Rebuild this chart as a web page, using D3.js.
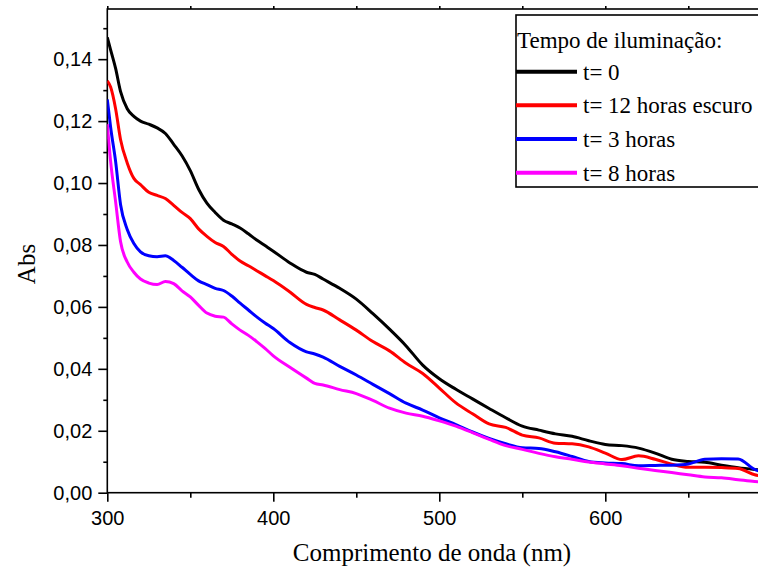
<!DOCTYPE html>
<html>
<head>
<meta charset="utf-8">
<script src="https://cdn.jsdelivr.net/npm/d3@7"></script>
<style>
html,body{margin:0;padding:0;background:#fff;overflow:hidden;}
svg{display:block;}
</style>
</head>
<body>
<svg id="chart" width="758" height="574"></svg>
<script>
const wavelengths = [300,302,305,308,312,316,320,325,330,335,340,345,350,355,360,365,370,375,380,385,390,395,400,410,420,425,430,440,450,460,470,480,490,500,510,520,530,540,550,560,570,580,590,600,610,620,630,640,650,660,670,680,690,700];
const t0 = [0.147,0.143,0.137,0.1295,0.124,0.1215,0.120,0.119,0.1178,0.116,0.1125,0.1088,0.104,0.098,0.0935,0.0905,0.088,0.0868,0.0855,0.0836,0.0816,0.0798,0.078,0.0742,0.0712,0.0705,0.069,0.066,0.0625,0.0578,0.0528,0.0474,0.0412,0.0368,0.0334,0.0303,0.0272,0.0242,0.0215,0.0202,0.019,0.0182,0.0168,0.0156,0.0152,0.0144,0.0128,0.0108,0.0101,0.0098,0.0089,0.0081,0.0075,0.007];
const t12escuro = [0.133,0.131,0.124,0.114,0.1065,0.1015,0.0995,0.097,0.096,0.095,0.0928,0.0905,0.0885,0.0852,0.0828,0.0808,0.0795,0.077,0.0748,0.0733,0.0717,0.0701,0.0685,0.0648,0.0608,0.0598,0.059,0.0558,0.0525,0.0488,0.0458,0.0418,0.0385,0.0338,0.029,0.0255,0.0222,0.0211,0.0186,0.0177,0.016,0.0158,0.0148,0.0128,0.0107,0.0119,0.0108,0.0092,0.0082,0.0082,0.0081,0.0078,0.0058,0.005];
const t3 = [0.127,0.118,0.107,0.093,0.085,0.0805,0.0778,0.0765,0.0762,0.0765,0.075,0.0728,0.0705,0.0684,0.0672,0.066,0.0653,0.0635,0.0612,0.059,0.0568,0.0548,0.053,0.0485,0.0455,0.0448,0.0438,0.0408,0.038,0.035,0.032,0.0289,0.0267,0.0242,0.022,0.0196,0.0175,0.0158,0.0145,0.0143,0.0132,0.0117,0.0101,0.0096,0.0094,0.0087,0.0088,0.0089,0.0093,0.0108,0.011,0.0109,0.0075,0.006];
const t8 = [0.119,0.107,0.094,0.081,0.0745,0.0712,0.069,0.0677,0.0672,0.0682,0.0675,0.0652,0.0632,0.0605,0.058,0.057,0.0567,0.0545,0.0525,0.0508,0.0488,0.0466,0.0442,0.0405,0.037,0.0353,0.0348,0.0333,0.032,0.0298,0.0273,0.0257,0.0247,0.0232,0.0215,0.0194,0.0172,0.0152,0.014,0.0127,0.0116,0.0108,0.0099,0.0093,0.0087,0.0079,0.0072,0.0065,0.0058,0.0051,0.0048,0.0042,0.0036,0.0034];
const seriesNames = ["t= 0","t= 12 horas escuro","t= 3 horas","t= 8 horas"];
const seriesColors = ["#000000","#ff0000","#0000ff","#ff00ff"];
const xTicks = [300,400,500,600];
const yTicks = [0,0.02,0.04,0.06,0.08,0.10,0.12,0.14];
const legendTitle = "Tempo de iluminação:";
const xTitle = "Comprimento de onda (nm)";
const yTitle = "Abs";

const seriesValues = [t0, t12escuro, t3, t8];
const svg = d3.select("#chart");
const L = 107.3, T = 9, B = 492.7, R = 771.3;
const x = d3.scaleLinear().domain([300,700]).range([L,R]);
const y = d3.scaleLinear().domain([0,0.1562]).range([B,T]);
const fmtY = d => d3.format(".2f")(d).replace(".", ",");

const xMinor = d3.range(350,701,100);
const yMinor = d3.range(0.01,0.156,0.02);

svg.append("rect").attr("x",L).attr("y",T).attr("width",R-L).attr("height",B-T)
  .attr("fill","none").attr("stroke","#000").attr("stroke-width",1.6);

svg.append("clipPath").attr("id","clip").append("rect")
  .attr("x",L).attr("y",T).attr("width",R-L).attr("height",B-T);

const yAxis = svg.append("g").attr("transform",`translate(${L},0)`)
  .call(d3.axisLeft(y).tickValues(yTicks).tickFormat(fmtY).tickSize(9).tickPadding(6));
yAxis.select(".domain").remove();
svg.append("g").attr("transform",`translate(${L},0)`)
  .call(d3.axisLeft(y).tickValues(yMinor).tickFormat("").tickSize(4))
  .select(".domain").remove();

const xAxis = svg.append("g").attr("transform",`translate(0,${B})`)
  .call(d3.axisBottom(x).tickValues(xTicks).tickSize(9).tickPadding(9));
xAxis.select(".domain").remove();
svg.append("g").attr("transform",`translate(0,${B})`)
  .call(d3.axisBottom(x).tickValues(xMinor).tickFormat("").tickSize(5))
  .select(".domain").remove();
svg.append("g").attr("transform",`translate(0,${T})`)
  .call(d3.axisTop(x).tickValues(xTicks.concat(xMinor)).tickFormat("").tickSize(3))
  .select(".domain").remove();

svg.selectAll(".tick line").attr("stroke","#000").attr("stroke-width",1.6);
svg.selectAll(".tick text").attr("font-family","'Liberation Sans', Arial, sans-serif")
  .attr("font-size",20).attr("fill","#000");

const line = d3.line().x((d,i)=>x(wavelengths[i])).y(d=>y(d)).curve(d3.curveMonotoneX);
const gLines = svg.append("g").attr("clip-path","url(#clip)");
seriesValues.forEach((vals,k)=>{
  gLines.append("path").datum(vals).attr("d",line).attr("fill","none")
    .attr("stroke",seriesColors[k]).attr("stroke-width",3).attr("stroke-linejoin","round");
});

svg.append("text").attr("x",432).attr("y",561).attr("text-anchor","middle")
  .attr("font-family","'Liberation Serif','Times New Roman',serif").attr("font-size",25)
  .text(xTitle);
svg.append("text").attr("transform","translate(35,264) rotate(-90)").attr("text-anchor","middle")
  .attr("font-family","'Liberation Serif','Times New Roman',serif").attr("font-size",25)
  .text(yTitle);

const lg = svg.append("g");
lg.append("rect").attr("x",516).attr("y",15).attr("width",300).attr("height",172)
  .attr("fill","#fff").attr("stroke","#000").attr("stroke-width",1.6);
lg.append("text").attr("x",517).attr("y",48).attr("font-family","'Liberation Serif','Times New Roman',serif")
  .attr("font-size",23).text(legendTitle);
const ly = d3.scaleLinear().domain([0,3]).range([71.7,172.7]);
seriesNames.forEach((n,k)=>{
  lg.append("line").attr("x1",516).attr("x2",577).attr("y1",ly(k)).attr("y2",ly(k))
    .attr("stroke",seriesColors[k]).attr("stroke-width",4);
  lg.append("text").attr("x",583).attr("y",ly(k)+8).attr("font-family","'Liberation Serif','Times New Roman',serif")
    .attr("font-size",23).text(n);
});
</script>
</body>
</html>
